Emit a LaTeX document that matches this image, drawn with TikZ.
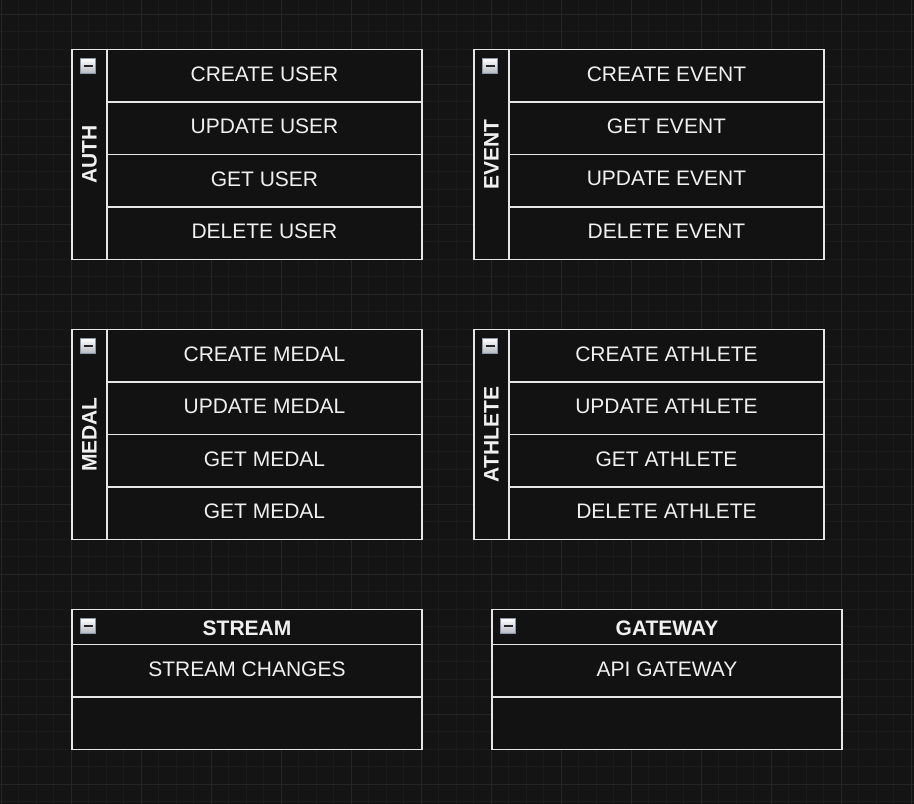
\documentclass[tikz,border=0pt]{standalone}
\usepackage{fontspec}
\setmainfont{Liberation Sans}
\definecolor{bgc}{HTML}{141414}
\definecolor{gridminor}{HTML}{1B1B1B}
\definecolor{gridmajor}{HTML}{252525}
\definecolor{boxc}{HTML}{121212}
\definecolor{linec}{HTML}{E6E6E6}
\definecolor{txt}{HTML}{F0F0F0}
\definecolor{iconedge}{HTML}{8C96A8}
\definecolor{iconlow}{HTML}{B4B8C0}
\tikzset{
  cell/.style={draw=linec, fill=boxc, line width=1.75pt, minimum width=315pt, minimum height=52.5pt,
    inner sep=0pt, outer sep=0pt, anchor=north west, text=txt, font=\fontsize{21}{25}\selectfont},
  wcell/.style={cell, minimum width=350pt},
  hdr/.style={draw=linec, fill=boxc, line width=1.75pt, minimum width=350pt, minimum height=35pt,
    inner sep=0pt, outer sep=0pt, anchor=north west, text=txt, font=\bfseries\fontsize{21}{25}\selectfont},
  strip/.style={draw=linec, fill=boxc, line width=1.75pt, minimum width=35pt, minimum height=210pt,
    inner sep=0pt, outer sep=0pt, anchor=north west},
  vlabel/.style={rotate=90, text=txt, inner sep=0pt, font=\bfseries\fontsize{21}{25}\selectfont},
  icon/.style={draw=iconedge, line width=1pt, top color=white, bottom color=iconlow,
    minimum size=15pt, inner sep=0pt, anchor=north west},
  minusbar/.style={draw=black!85, line width=2pt},
}
\newcommand\up[1]{\raisebox{4pt}{#1}}
\newcommand\down[1]{\raisebox{0pt}[\dimexpr\height+3pt\relax][0pt]{#1}}
\newcommand\mylist[8]{%
  \node[strip] (#1strip) at (#2,#3) {};
  \node[vlabel] (#1title) at (#2+17.5,#3+105) {#4};
  \node[cell] (#1r1) at (#2+35,#3) {\up{#5}};
  \node[cell] (#1r2) at (#2+35,#3+52.5) {\up{#6}};
  \node[cell] (#1r3) at (#2+35,#3+105) {\up{#7}};
  \node[cell] (#1r4) at (#2+35,#3+157.5) {\up{#8}};
  \node[icon] (#1icon) at (#2+8,#3+8.5) {};
  \draw[minusbar] ([xshift=-4.5pt]#1icon.center) -- ([xshift=4.5pt]#1icon.center);
}
\newcommand\myhlist[5]{%
  \node[hdr] (#1hdr) at (#2,#3) {\down{#4}};
  \node[wcell] (#1r1) at (#2,#3+35) {\up{#5}};
  \node[wcell] (#1r2) at (#2,#3+87.5) {};
  \node[icon] (#1icon) at (#2+8,#3+8.5) {};
  \draw[minusbar] ([xshift=-4.5pt]#1icon.center) -- ([xshift=4.5pt]#1icon.center);
}
\begin{document}
\begin{tikzpicture}[x=1pt,y=-1pt]
\fill[bgc] (0,0) rectangle (914,804);
\useasboundingbox (0,0) rectangle (914,804);
\foreach \i in {0,...,52} {
  \draw[gridminor, line width=1pt] (1+17.5*\i,0) -- (1+17.5*\i,804);
}
\foreach \i in {0,...,46} {
  \draw[gridminor, line width=1pt] (0,-3.5+17.5*\i) -- (914,-3.5+17.5*\i);
}
\foreach \i in {0,...,13} {
  \draw[gridmajor, line width=1pt] (1+70*\i,0) -- (1+70*\i,804);
}
\foreach \i in {0,...,11} {
  \draw[gridmajor, line width=1pt] (0,14+70*\i) -- (914,14+70*\i);
}
\mylist{auth}{72}{49.5}{AUTH}{CREATE USER}{UPDATE USER}{GET USER}{DELETE USER}
\mylist{event}{474}{49.5}{EVENT}{CREATE EVENT}{GET EVENT}{UPDATE EVENT}{DELETE EVENT}
\mylist{medal}{72}{329.5}{MEDAL}{CREATE MEDAL}{UPDATE MEDAL}{GET MEDAL}{GET MEDAL}
\mylist{athlete}{474}{329.5}{ATHLETE}{CREATE ATHLETE}{UPDATE ATHLETE}{GET ATHLETE}{DELETE ATHLETE}
\myhlist{stream}{72}{609.5}{STREAM}{STREAM CHANGES}
\myhlist{gateway}{492}{609.5}{GATEWAY}{API GATEWAY}
\end{tikzpicture}
\end{document}
